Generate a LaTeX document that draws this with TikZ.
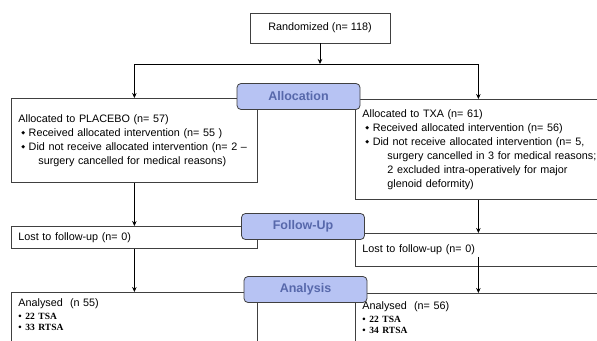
\documentclass[tikz,border=0pt]{standalone}
\usepackage{fontspec}
\setmainfont{Liberation Sans}
\newfontfamily\dejavu{DejaVu Sans}
\newfontfamily\tsafont{Liberation Serif}
\usetikzlibrary{arrows.meta,positioning}
\definecolor{boxline}{HTML}{404040}
\definecolor{stagefill}{HTML}{B7C3F3}
\definecolor{stagetext}{HTML}{5768AB}
\newcommand{\dia}{\hspace*{3pt}\raisebox{1.6pt}{\dejavu\fontsize{5}{5}\selectfont ◆}\hspace{3.5pt}}
\newcommand{\tsa}[1]{{\tsafont\bfseries\fontsize{9.5}{12}\selectfont • #1}}

\begin{document}
\begin{tikzpicture}[x=1pt,y=-1pt,>={Stealth[length=5pt,width=4.5pt]},
  box/.style={draw=boxline,line width=0.8pt,fill=white,anchor=north west,text width=232pt,inner xsep=7pt,align=left,font=\fontsize{10.8}{14}\selectfont},
  stage/.style={draw=boxline,line width=0.8pt,fill=stagefill,rounded corners=4pt,minimum width=123pt,minimum height=26pt,text=stagetext,font=\bfseries\fontsize{12.5}{14}\selectfont}]
\clip (0,0) rectangle (597,340);
\fill[white] (0,0) rectangle (597,340);
\node[draw=boxline,line width=0.8pt,minimum width=140pt,minimum height=30pt,font=\fontsize{10.8}{14}\selectfont] (rand) at (320,28) {Randomized (n= 118)};
\coordinate (split) at (320,64);
\node[box,minimum height=84pt] (placebo) at (11,98) {Allocated to PLACEBO (n= 57)\\
\mbox{\dia Received allocated intervention (n= 55 )}\\
\mbox{\dia Did not receive allocated intervention (n= 2 –}\\
\mbox{\hspace*{20pt}surgery cancelled for medical reasons)}};
\node[box,minimum height=100pt] (txa) at (355,99) {Allocated to TXA (n= 61)\\
\mbox{\dia Received allocated intervention (n= 56)}\\
\mbox{\dia Did not receive allocated intervention (n= 5,}\\
\mbox{\hspace*{25pt}surgery cancelled in 3 for medical reasons;}\\
\mbox{\hspace*{25pt}2 excluded intra-operatively for major}\\
\mbox{\hspace*{25pt}glenoid deformity)}};
\node[box,minimum height=22pt] (lostL) at (11,226) {Lost to follow-up (n= 0)};
\node[box,minimum height=33pt] (lostR) at (355,233) {Lost to follow-up (n= 0)};
\node[box,inner ysep=6pt,text depth=50pt] (anL) at (11,292) {Analysed\ \ (n 55)\\[-1pt] \tsa{22 TSA}\\[-2.5pt] \tsa{33 RTSA}};
\node[box,inner ysep=8pt,text depth=50pt] (anR) at (355,293) {Analysed\ \ (n= 56)\\[-1pt] \tsa{22 TSA}\\[-2.5pt] \tsa{34 RTSA}};
\path[draw,line width=0.8pt,->] (rand) -- (split);
\path[draw,line width=0.8pt,->] (split) -| (placebo);
\path[draw,line width=0.8pt,->] (split) -| (txa);
\path[draw,line width=0.8pt,->] (placebo.south) -- (lostL.north);
\path[draw,line width=0.8pt,->] (txa.south) -- (lostR.north);
\path[draw,line width=0.8pt,->] (lostL.south) -- (anL.north);
\path[draw,line width=0.8pt,->] ([yshift=10pt]lostR.south) -- (anR.north);
\node[stage] (alloc) at (298.5,96.5) {Allocation};
\node[stage] (follow) at (303,226.5) {Follow-Up};
\node[stage] (analysis) at (305.5,289.5) {Analysis};
\end{tikzpicture}
\end{document}
